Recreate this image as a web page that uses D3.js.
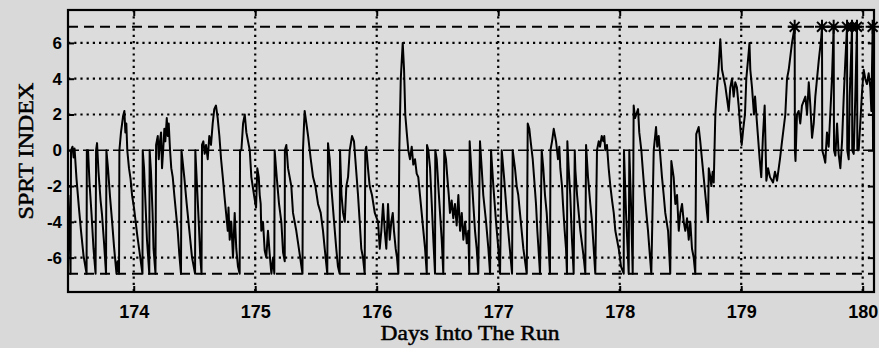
<!DOCTYPE html>
<html>
<head>
<meta charset="utf-8">
<script src="https://cdn.jsdelivr.net/npm/d3@7"></script>
<style>
  html, body { margin: 0; padding: 0; background: #d9d9d9; }
  svg { display: block; }
</style>
</head>
<body>
<svg id="chart" width="879" height="348"></svg>
<script>
// SPRT index trace: time (days into the run) and index value
const days = [
  173.462,173.472,173.480,173.484,173.496,173.505,173.513,173.529,173.550,173.566,173.587,173.612,173.614,173.624,173.636,173.653,173.669,173.686,
  173.690,173.698,173.710,173.727,173.739,173.756,173.772,173.775,173.788,173.805,173.821,173.838,173.858,173.867,173.879,173.882,173.895,173.912,
  173.923,173.931,173.939,173.947,173.961,173.974,173.986,174.002,174.016,174.030,174.044,174.072,174.074,174.085,174.097,174.109,174.128,174.131,
  174.142,174.155,174.163,174.179,174.184,174.198,174.206,174.216,174.225,174.233,174.244,174.252,174.260,174.272,174.280,174.288,174.299,174.309,
  174.321,174.334,174.348,174.362,174.375,174.389,174.393,174.416,174.436,174.458,174.480,174.505,174.507,174.521,174.535,174.548,174.558,174.562,
  174.573,174.584,174.595,174.609,174.622,174.636,174.650,174.663,174.677,174.691,174.705,174.719,174.733,174.746,174.760,174.774,174.780,174.790,
  174.803,174.817,174.831,174.844,174.858,174.872,174.875,174.886,174.900,174.914,174.927,174.955,174.968,174.990,175.007,175.017,175.029,175.037,
  175.045,175.050,175.064,175.078,175.091,175.105,175.119,175.133,175.147,175.157,175.160,175.177,175.196,175.215,175.229,175.243,175.244,175.256,
  175.270,175.297,175.311,175.338,175.366,175.389,175.393,175.402,175.407,175.421,175.435,175.457,175.476,175.495,175.517,175.539,175.558,175.572,
  175.593,175.599,175.613,175.626,175.649,175.667,175.681,175.695,175.698,175.710,175.723,175.737,175.750,175.764,175.778,175.797,175.813,175.824,
  175.846,175.860,175.873,175.887,175.901,175.906,175.914,175.928,175.942,175.961,175.984,176.011,176.025,176.038,176.052,176.066,176.079,176.093,
  176.107,176.120,176.132,176.142,176.156,176.167,176.178,176.186,176.198,176.214,176.225,176.235,176.247,176.260,176.274,176.288,176.301,176.315,
  176.329,176.342,176.356,176.370,176.384,176.398,176.412,176.414,176.425,176.439,176.453,176.466,176.480,176.482,176.494,176.507,176.521,176.535,
  176.548,176.556,176.570,176.581,176.593,176.603,176.617,176.630,176.644,176.658,176.672,176.686,176.700,176.713,176.727,176.741,176.754,176.762,
  176.765,176.782,176.795,176.809,176.823,176.836,176.850,176.864,176.877,176.900,176.919,176.933,176.941,176.960,176.982,177.001,177.015,177.029,
  177.048,177.070,177.089,177.114,177.119,177.138,177.152,177.165,177.179,177.193,177.207,177.221,177.235,177.243,177.256,177.267,177.284,177.295,
  177.311,177.322,177.336,177.344,177.358,177.371,177.385,177.399,177.412,177.426,177.430,177.443,177.457,177.476,177.492,177.503,177.511,177.525,
  177.533,177.547,177.558,177.566,177.569,177.580,177.593,177.607,177.621,177.630,177.635,177.649,177.676,177.704,177.717,177.723,177.739,177.758,
  177.772,177.786,177.799,177.813,177.827,177.838,177.852,177.865,177.873,177.881,177.895,177.909,177.923,177.937,177.951,177.964,177.992,178.011,
  178.033,178.035,178.052,178.074,178.079,178.093,178.107,178.115,178.126,178.151,178.161,178.178,178.189,178.206,178.219,178.233,178.244,178.260,
  178.280,178.299,178.309,178.321,178.334,178.348,178.362,178.375,178.398,178.408,178.416,178.425,178.444,178.458,178.472,178.486,178.499,178.513,
  178.527,178.540,178.554,178.568,178.581,178.595,178.609,178.622,178.630,178.650,178.663,178.677,178.691,178.705,178.719,178.727,178.733,178.746,
  178.754,178.765,178.774,178.787,178.801,178.813,178.828,178.842,178.869,178.897,178.910,178.924,178.938,178.951,178.965,178.979,178.993,179.004,
  179.017,179.031,179.042,179.062,179.068,179.075,179.089,179.105,179.114,179.130,179.152,179.165,179.179,179.193,179.207,179.221,179.237,179.262,
  179.278,179.295,179.319,179.336,179.363,179.377,179.391,179.418,179.440,179.442,179.447,179.459,179.473,179.486,179.500,179.528,179.542,179.556,
  179.569,179.583,179.597,179.610,179.638,179.659,179.665,179.667,179.679,179.692,179.706,179.720,179.747,179.761,179.764,179.775,179.789,179.802,
  179.816,179.830,179.844,179.857,179.871,179.873,179.885,179.893,179.912,179.914,179.926,179.939,179.953,179.956,179.967,179.980,179.994,180.008,
  180.021,180.035,180.049,180.063,180.071,180.082,180.085,180.089
];
const sprt = [
  -2.5,-4.5,-6.9,0,0.2,-0.4,0.1,-1.6,-3.3,-4.5,-5.9,-6.9,0,0,-1.8,-3.6,-5.5,-6.9,
  0,0.4,-1.2,-2.8,-3.6,-5.2,-6.9,0,-1.0,-2.6,-3.9,-5.4,-6.9,-6.2,-6.9,0,1.0,1.9,
  2.2,1.0,1.5,0,-1.0,-1.6,-2.5,-3.2,-4.0,-4.8,-5.5,-6.9,0,-1.0,-3.0,-5.0,-6.9,0,
  -1.2,-3.5,-5.5,-6.9,0.3,0.8,-0.5,0.5,1.0,-1.0,0.2,1.2,0.5,1.8,0.8,1.5,0,-1.0,
  -1.5,-2.5,-3.5,-4.5,-5.8,-6.9,0,-1.5,-3.0,-4.5,-6.0,-6.9,0,-2.0,-4.0,-6.0,-6.9,0.3,
  0.5,-0.2,0.3,-0.5,0.8,0.3,1.5,2.3,2.5,1.8,0.8,-0.5,-1.5,-2.5,-3.5,-4.5,-3.2,-5.0,
  -4.0,-6.0,-3.5,-5.5,-6.5,-6.9,0,0,1.5,2.0,1.0,0,-1.5,-2.5,-3.2,-1.0,-1.5,-2.5,
  -3.0,-4.5,-4.0,-5.6,-6.0,-4.5,-5.8,-6.9,-6.0,-6.9,0,-1.5,-3.0,-4.0,-5.7,-6.2,0,0.3,
  -1.0,-2.0,-3.5,-4.5,-5.8,-6.9,0,1.5,2.2,1.5,0.8,-0.5,-1.5,-2.0,-3.0,-3.5,-4.5,-5.5,
  -6.9,0.4,-0.5,-2.0,-4.0,-5.5,-6.5,-6.9,0,-2.5,-3.5,-4.0,-2.0,-1.5,0,0.8,0.5,-0.5,
  -2.5,-4.0,-5.5,-6.0,-6.9,0,0.2,-1.0,-2.0,-2.5,-3.5,-4.0,-5.5,-4.5,-3.0,-4.5,-5.5,-3.0,
  -5.0,-4.0,-3.5,-4.5,-5.5,-6.0,-6.9,0,4.0,6.0,4.5,2.0,1.0,0,-0.5,0.2,-0.8,-0.5,
  -1.3,-1.5,-2.5,-3.5,-4.5,-5.5,-6.9,0.3,0,-1.0,-3.0,-5.0,-6.9,0,-0.5,-2.0,-3.5,-5.0,
  -6.9,0,-0.5,-1.5,-2.5,-3.5,-2.8,-3.8,-3.0,-4.2,-2.5,-4.5,-3.5,-5.0,-4.0,-5.2,-4.5,-6.9,
  0.5,-1.5,-3.0,-4.5,-5.5,-6.9,0.5,-1.0,-2.5,-4.0,-5.5,-6.9,0,-2.0,-4.0,-5.5,-6.9,0,
  -1.5,-3.5,-5.0,-6.9,0,-1.0,-2.0,-2.5,-3.5,-4.5,-5.5,-6.2,-6.9,1.5,1.2,0.5,-0.5,-1.5,
  -3.0,-4.5,-6.0,-6.9,0,-1.0,-2.5,-3.5,-5.0,-6.9,0,0.5,1.2,0.5,-0.5,0.2,-1.0,-2.0,
  -3.0,-4.5,-5.5,-6.9,0.5,-1.0,-2.5,-5.0,-6.9,0,-1.1,-2.5,-4.5,-6.0,-6.9,0.3,-1.5,-3.0,
  -4.0,-5.5,-6.9,0,0.5,0.2,0.8,0.5,0.8,0,0.3,-1.0,-2.0,-2.8,-3.5,-4.5,-5.5,-6.5,
  -6.9,0,-3.5,-6.9,0,-3.0,-6.9,2.5,1.8,2.3,1.0,0,-1.0,-2.5,-3.5,-4.5,-5.5,-6.9,
  0,1.3,0.2,0.8,-0.3,-1.5,-2.5,-3.5,-4.5,-5.8,-6.9,-0.6,-1.5,-3.0,-2.5,-4.5,-3.5,-3.0,
  -4.0,-4.5,-3.8,-5.0,-4.0,-5.5,-6.0,-6.9,0.9,1.3,0.5,-0.5,-1.5,-2.5,-3.5,-4.0,-1.0,-1.5,
  -2.0,-1.2,-1.8,2.0,3.5,4.5,6.2,4.5,3.6,2.2,3.5,4.0,3.0,3.8,3.5,2.5,1.2,0.3,
  1.2,2.0,4.0,5.5,6.0,4.5,3.5,2.0,3.0,1.5,-0.5,-1.5,0.8,2.5,-1.7,-1.0,-1.5,-1.8,
  -1.2,-1.7,-0.5,0.5,2.0,4.0,4.5,6.0,6.9,0,-0.6,2.0,2.2,1.5,2.5,3.0,2.0,3.8,
  2.5,0.7,1.5,3.0,5.0,6.3,6.9,0,-0.3,-0.7,1.0,0.2,4.0,6.9,0,-0.3,1.5,-0.2,
  -1.0,0.5,3.0,5.0,6.9,0,-0.5,3.0,6.9,0,-0.2,3.0,6.9,0,0,1.5,3.2,4.5,
  4.0,3.7,4.3,3.5,2.2,6.9,0,2.5
];
// Times at which the index crossed the upper (alarm) threshold
const alarmDays = [179.440, 179.665, 179.761, 179.871, 179.912, 179.953, 180.082];
const threshold = 6.9;

const xTicks = [174, 175, 176, 177, 178, 179, 180];
const xTickLabels = ["174", "175", "176", "177", "178", "179", "180"];
const yTicks = [-6, -4, -2, 0, 2, 4, 6];
const yTickLabels = ["-6", "-4", "-2", "0", "2", "4", "6"];
const xDomain = [173.459, 180.093];
const yDomain = [-7.92, 7.84];

const W = 879, H = 348;
const margin = { top: 10, right: 5, bottom: 56, left: 68 };
const iw = W - margin.left - margin.right;
const ih = H - margin.top - margin.bottom;

const svg = d3.select("#chart");
svg.append("rect").attr("width", W).attr("height", H).attr("fill", "#d9d9d9");

const g = svg.append("g").attr("transform", `translate(${margin.left},${margin.top})`);

const x = d3.scaleLinear().domain(xDomain).range([0, iw]);
const y = d3.scaleLinear().domain(yDomain).range([ih, 0]);

g.append("rect").attr("width", iw).attr("height", ih).attr("fill", "#dcdcdc");

// dotted grid
const grid = g.append("g").attr("stroke", "#000").attr("stroke-width", 2.2)
  .attr("stroke-dasharray", "2.2,4").attr("fill", "none");
grid.selectAll(".gx").data(xTicks).join("line")
  .attr("x1", d => x(d)).attr("x2", d => x(d)).attr("y1", 0).attr("y2", ih);
grid.selectAll(".gy").data(yTicks.filter(d => d !== 0)).join("line")
  .attr("x1", 0).attr("x2", iw).attr("y1", d => y(d)).attr("y2", d => y(d));

// zero line
g.append("line").attr("x1", 0).attr("x2", iw).attr("y1", y(0)).attr("y2", y(0))
  .attr("stroke", "#000").attr("stroke-width", 1.5).attr("stroke-dasharray", "11,4");

// decision thresholds
g.selectAll(".thr").data([threshold, -threshold]).join("line")
  .attr("x1", 0).attr("x2", iw).attr("y1", d => y(d)).attr("y2", d => y(d))
  .attr("stroke", "#000").attr("stroke-width", 2).attr("stroke-dasharray", "10,6");

// SPRT trace
const line = d3.line().x(i => x(days[i])).y(i => y(sprt[i]));
g.append("path").attr("d", line(d3.range(days.length)))
  .attr("fill", "none").attr("stroke", "#000").attr("stroke-width", 2)
  .attr("stroke-linejoin", "round");

// alarm markers (asterisks)
const star = (r) => {
  const p = d3.path();
  const a = r * Math.SQRT1_2;
  p.moveTo(-r, 0); p.lineTo(r, 0);
  p.moveTo(0, -r); p.lineTo(0, r);
  p.moveTo(-a, -a); p.lineTo(a, a);
  p.moveTo(-a, a); p.lineTo(a, -a);
  return p.toString();
};
g.selectAll(".alarm").data(alarmDays).join("path")
  .attr("transform", d => `translate(${x(d)},${y(threshold)})`)
  .attr("d", star(7)).attr("stroke", "#000").attr("stroke-width", 2).attr("fill", "none");

// axes
const tickFont = "'Liberation Sans', Arial, sans-serif";
const xAxis = g.append("g").attr("transform", `translate(0,${ih})`)
  .call(d3.axisBottom(x).tickValues(xTicks).tickFormat((d, i) => xTickLabels[i])
    .tickSize(-6).tickPadding(13));
const yAxis = g.append("g")
  .call(d3.axisLeft(y).tickValues(yTicks).tickFormat((d, i) => yTickLabels[i])
    .tickSize(-6).tickPadding(6));
g.append("g").call(d3.axisTop(x).tickValues(xTicks).tickFormat("").tickSize(-6));
g.append("g").attr("transform", `translate(${iw},0)`)
  .call(d3.axisRight(y).tickValues(yTicks).tickFormat("").tickSize(-6));

g.selectAll(".domain").remove();
g.selectAll(".tick line").attr("stroke", "#000").attr("stroke-width", 2);
[xAxis, yAxis].forEach(a => a.selectAll("text")
  .attr("font-family", tickFont).attr("font-weight", "bold").attr("fill", "#000"));
xAxis.selectAll("text").attr("font-size", 18);
yAxis.selectAll("text").attr("font-size", 17);

// frame
g.append("rect").attr("width", iw).attr("height", ih)
  .attr("fill", "none").attr("stroke", "#000").attr("stroke-width", 2.2);

// axis titles
const serif = "'Liberation Serif', 'Times New Roman', serif";
svg.append("text")
  .attr("x", 470).attr("y", 340)
  .attr("text-anchor", "middle")
  .attr("font-family", serif).attr("font-size", 21)
  .attr("fill", "#000").attr("stroke", "#000").attr("stroke-width", 0.5)
  .attr("textLength", 179).attr("lengthAdjust", "spacingAndGlyphs")
  .text("Days Into The Run");

svg.append("text")
  .attr("transform", "translate(33,151) rotate(-90)")
  .attr("text-anchor", "middle")
  .attr("font-family", serif).attr("font-size", 22)
  .attr("fill", "#000").attr("stroke", "#000").attr("stroke-width", 0.5)
  .attr("textLength", 137).attr("lengthAdjust", "spacingAndGlyphs")
  .text("SPRT INDEX");
</script>
</body>
</html>
